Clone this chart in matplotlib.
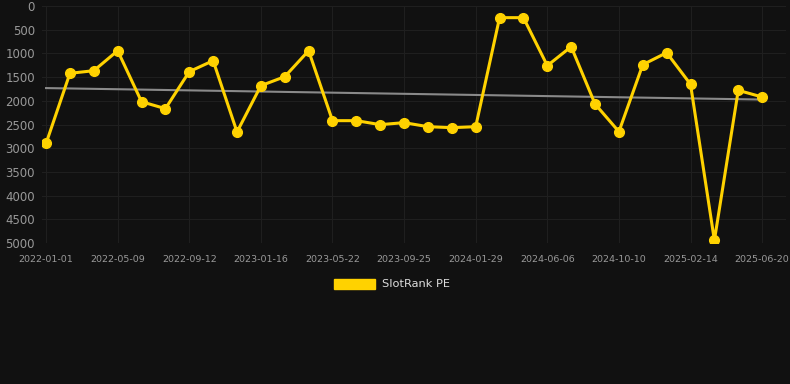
import matplotlib.pyplot as plt
import matplotlib.patches as mpatches
import numpy as np

# SlotRank PE values (one point per period, lower = better rank)
pe_values = [2900, 1420, 1365, 943, 2019, 2166, 1385, 1153, 2658, 1681,
             1491, 943, 2419, 2419, 2503, 2461, 2546, 2567, 2546, 246,
             246, 1259, 858, 2068, 2651, 1238, 985, 1652, 4944, 1779, 1920]
tick_labels = ['2022-01-01', '2022-05-09', '2022-09-12', '2023-01-16', '2023-05-22',
               '2023-09-25', '2024-01-29', '2024-06-06', '2024-10-10', '2025-02-14',
               '2025-06-20']

x = np.arange(len(pe_values))
slope, icpt = np.polyfit(x, pe_values, 1)
trend = slope * x + icpt

bg = '#111111'
fig = plt.figure(figsize=(7.9, 3.84), dpi=100, facecolor=bg)
ax = fig.add_axes([42/790, 1 - 243/384, (786 - 42)/790, 237/384], facecolor=bg)

ax.plot(x, trend, color='#8a8a8a', lw=1.5, zorder=2)
ax.plot(x, pe_values, color='#ffd200', lw=2.2, marker='o', ms=7, zorder=3)

ax.set_ylim(5000, 0)
ax.set_yticks(range(0, 5001, 500))
ax.set_xlim(-0.17, 31.0)
ax.set_xticks(x[::3])
ax.set_xticklabels(tick_labels)

ax.grid(True, color='#1f1f1f', lw=0.8)
for s in ax.spines.values():
    s.set_visible(False)
ax.tick_params(axis='y', colors='#999999', labelsize=8.5, length=0, pad=5)
ax.tick_params(axis='x', colors='#999999', labelsize=6.8, length=0, pad=9)

handle = mpatches.Patch(color='#ffd200', label='SlotRank PE')
leg = fig.legend(handles=[handle], loc='center', bbox_to_anchor=(392/790, 1 - 284/384),
                 frameon=False, fontsize=8.2, handlelength=3.6, handleheight=1.0,
                 handletextpad=0.6)
for t in leg.get_texts():
    t.set_color('#dddddd')

fig.savefig('out.png', dpi=100, facecolor=bg)
